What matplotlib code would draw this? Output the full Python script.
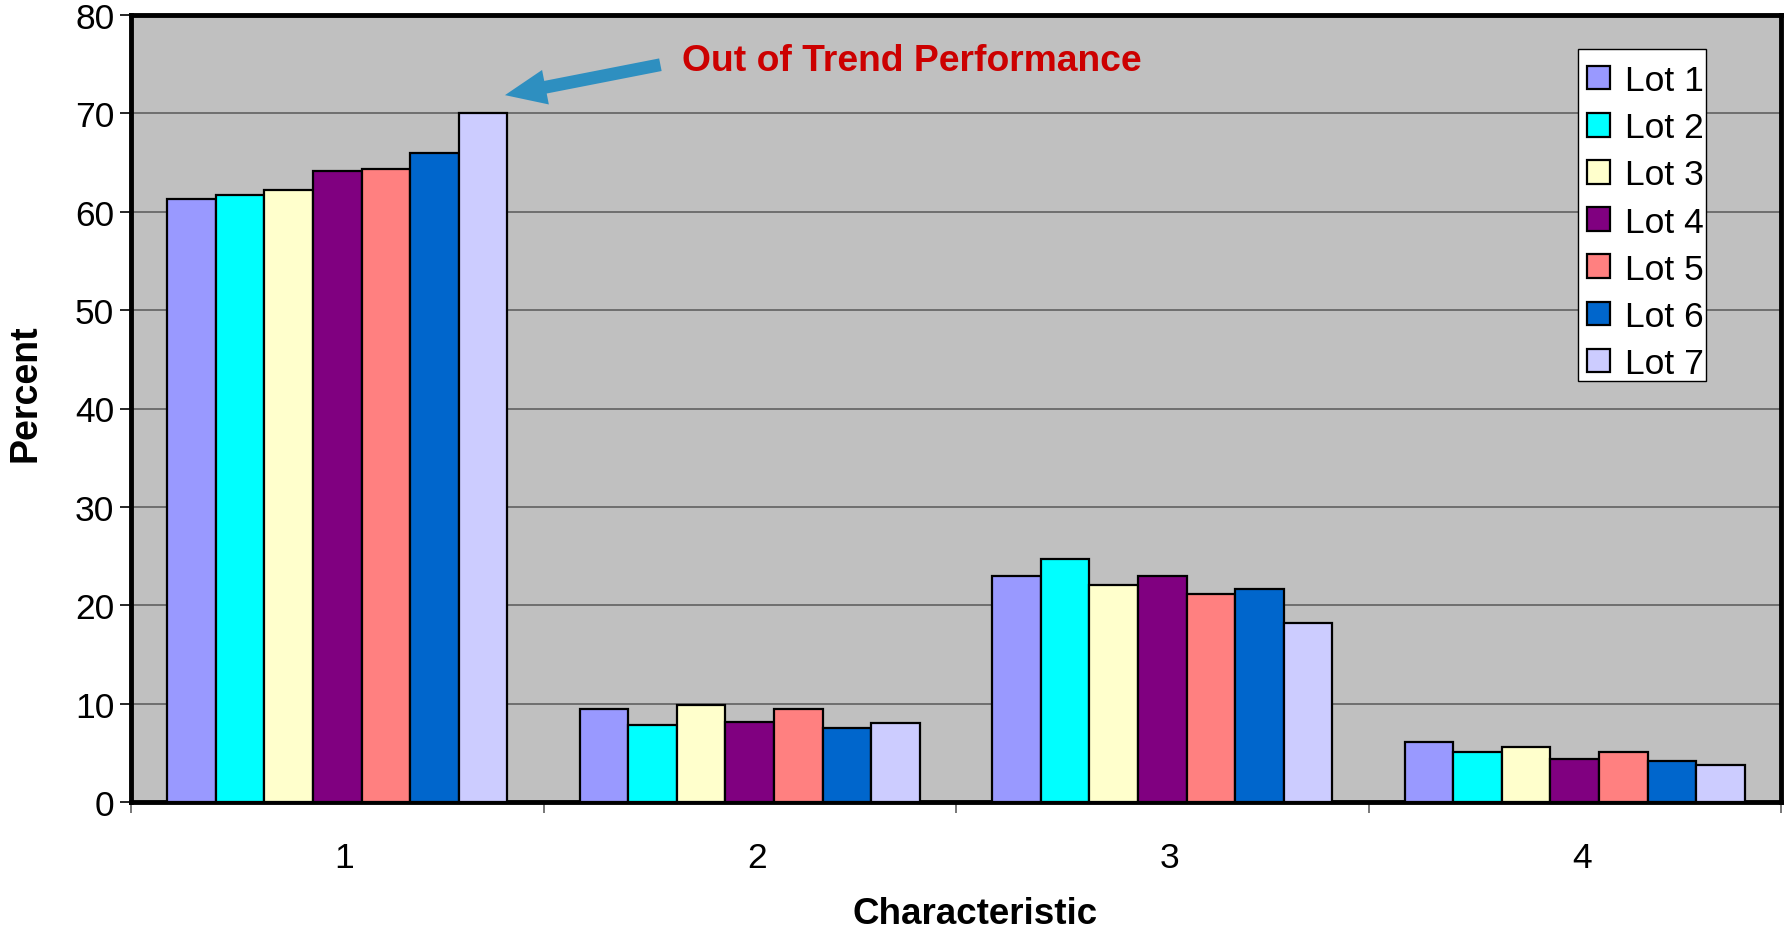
import matplotlib
matplotlib.use("Agg")
import matplotlib.pyplot as plt
import matplotlib.transforms as mtransforms
from matplotlib.patches import Rectangle
import numpy as np

categories = ["1", "2", "3", "4"]
lots = ["Lot 1", "Lot 2", "Lot 3", "Lot 4", "Lot 5", "Lot 6", "Lot 7"]
lot1 = [61.3, 9.5, 23.0, 6.1]
lot2 = [61.7, 7.8, 24.7, 5.1]
lot3 = [62.2, 9.9, 22.1, 5.6]
lot4 = [64.1, 8.1, 23.0, 4.4]
lot5 = [64.3, 9.5, 21.1, 5.1]
lot6 = [66.0, 7.5, 21.7, 4.2]
lot7 = [70.0, 8.0, 18.2, 3.8]
series = [lot1, lot2, lot3, lot4, lot5, lot6, lot7]
colors = ["#9999FF", "#00FFFF", "#FFFFCC", "#800080", "#FF8080", "#0066CC", "#CCCCFF"]
yticks = [0, 10, 20, 30, 40, 50, 60, 70, 80]

plt.rcParams['font.family'] = ['Liberation Sans', 'DejaVu Sans']

W, H = 1787, 929
fig = plt.figure(figsize=(W / 100, H / 100), dpi=100)
ax = fig.add_axes([131 / W, 1 - 803 / H, (1781 - 131) / W, (803 - 16) / H])
ax.set_facecolor("#C0C0C0")

n = len(series)
gap = 1.5
w = 1.0 / (n + gap)
x = np.arange(len(categories))
for i, (vals, c, lab) in enumerate(zip(series, colors, lots)):
    offs = (i - (n - 1) / 2) * w
    ax.bar(x + offs, vals, width=w, color=c, edgecolor="black", linewidth=1.6,
           label=lab, zorder=3)

ax.set_xlim(-0.5, len(categories) - 0.5)
ax.set_ylim(0, 80)
ax.set_yticks(yticks)
ax.yaxis.grid(True, color="#606060", linewidth=1.2, zorder=0)
ax.set_axisbelow(True)
ax.tick_params(axis='y', labelsize=25.5, length=8, width=1.2, pad=4)
ax.set_xticks(x)
ax.set_xticklabels(categories)
ax.tick_params(axis='x', which='major', length=0, labelsize=25.5, pad=28)
ax.set_xticks(np.arange(-0.5, len(categories)), minor=True)
ax.tick_params(axis='x', which='minor', length=8, width=1.2, color="#606060")
shift = mtransforms.ScaledTranslation(7 / 100, 0, fig.dpi_scale_trans)
for lab in ax.get_xticklabels():
    lab.set_transform(lab.get_transform() + shift)

for s in ax.spines.values():
    s.set_linewidth(3.5)
    s.set_color("black")

fig.text(26 / W, 1 - 393 / H, "Percent", fontsize=27, fontweight="bold",
         rotation=90, ha="center", va="center")
fig.text(975 / W, 1 - 915 / H, "Characteristic", fontsize=26.5, fontweight="bold",
         ha="center", va="center")

# legend box (white frame) drawn separately, then frameless legend entries on top
box = Rectangle((1578 / W, 1 - 382 / H), (1706 - 1578) / W, (382 - 50) / H,
                transform=fig.transFigure, facecolor="white", edgecolor="black",
                linewidth=1.0, zorder=8, clip_on=False)
ax.add_patch(box)
leg = ax.legend(loc="upper right", bbox_to_anchor=(1710.5 / W, 1 - 58 / H),
                bbox_transform=fig.transFigure, fontsize=25.5, frameon=False,
                handlelength=0.65, handleheight=0.65, handletextpad=0.42,
                labelspacing=0.40, borderpad=0.2, borderaxespad=0)
leg.set_zorder(11)

ax.annotate("", xy=(0.40, 71.8), xytext=(0.79, 75.0),
            arrowprops=dict(arrowstyle="simple,head_length=1.35,head_width=1.15,tail_width=0.42",
                            color="#2E8FC0", lw=0, mutation_scale=22), zorder=5)
ax.text(0.836, 75.4, "Out of Trend Performance", fontsize=26.8, fontweight="bold",
        color="#CC0000", va="center", ha="left", zorder=5)

fig.savefig("out.png", dpi=100)
